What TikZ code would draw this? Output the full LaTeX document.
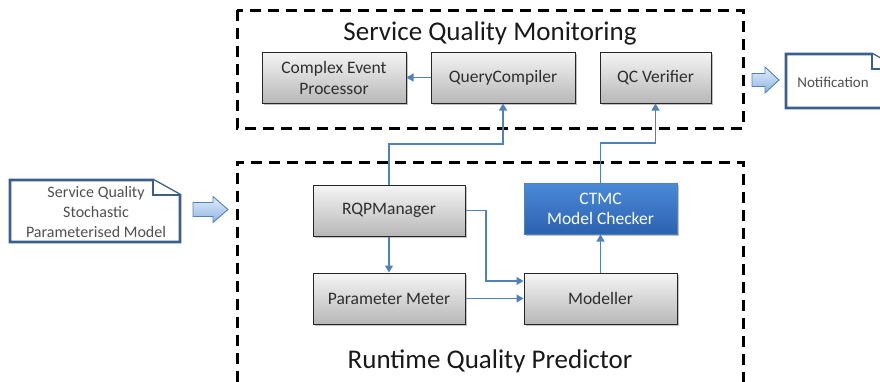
\documentclass[tikz,border=0pt]{standalone}
\usepackage{fontspec}
\setmainfont{Carlito}
\usetikzlibrary{arrows.meta,shadows}
\definecolor{conn}{HTML}{4F81BD}
\definecolor{docblue}{HTML}{3A5F8F}
\definecolor{txt}{HTML}{2E2E2E}
\definecolor{doctxt}{HTML}{505050}
\definecolor{ctmctop}{HTML}{4A8AD8}
\definecolor{ctmcbot}{HTML}{2C62B0}
\definecolor{barrtop}{HTML}{E3EDF9}
\definecolor{barrbot}{HTML}{8EB4E3}
\begin{document}
\begin{tikzpicture}[x=1pt,y=-1pt,
  graybox/.style={draw=black!85, line width=1pt, top color=black!4, bottom color=black!28,
    minimum height=51pt, text=txt, font=\fontsize{17.5}{21}\selectfont, align=center, inner sep=2pt,
    drop shadow={shadow xshift=1.8pt, shadow yshift=-1.8pt, opacity=0.4, fill=black!60}},
  bluebox/.style={draw=conn, line width=1pt, top color=ctmctop, bottom color=ctmcbot,
    minimum height=51pt, text=white, font=\fontsize{17.5}{20}\selectfont, align=center, inner sep=2pt,
    drop shadow={shadow xshift=1.8pt, shadow yshift=-1.8pt, opacity=0.4, fill=black!60}},
  conn/.style={draw=conn, line width=1.3pt, -{Triangle[length=7pt,width=8pt]}},
  dashbox/.style={draw=black, line width=3pt, dash pattern=on 11pt off 7pt},
  docshape/.style={draw=docblue, line width=2.8pt, fill=white, line join=miter},
  blockarrow/.style={top color=barrtop, bottom color=barrbot, draw=conn, line width=0.9pt},
  titletxt/.style={font=\fontsize{27}{30}\selectfont, text=black!90}
]
\useasboundingbox (0,0) rectangle (880,381);
\clip (0,0) rectangle (880,381);

% dashed containers
\draw[dashbox] (237,10) rectangle (743,128);
\draw[dashbox] (237,400) -- (237,162) -- (743,162) -- (743,400);

\node[titletxt] (smtitle) at (490,33) {Service Quality Monitoring};
\node[titletxt] (rqptitle) at (490,361) {Runtime Quality Predictor};

% top boxes
\node[graybox, minimum width=144pt] (cep) at (334,77.5) {Complex Event\\Processor};
\node[graybox, minimum width=144pt] (qc) at (503,77.5) {QueryCompiler};
\node[graybox, minimum width=111pt] (qcv) at (655.5,77.5) {QC Verifier};

% bottom boxes
\node[graybox, minimum width=152pt] (rqp) at (389,210.5) {RQPManager};
\node[graybox, minimum width=152pt] (pm) at (389,298.5) {Parameter Meter};
\node[graybox, minimum width=153pt] (mod) at (600.5,298.5) {Modeller};
\node[bluebox, minimum width=153pt] (ctmc) at (600.5,208.5) {CTMC\\Model Checker};

% connectors
\coordinate (j1) at (0,144);
\coordinate (j2) at (0,143);
\coordinate (k1) at (486,281);
\draw[conn] (qc.west) -- (cep.east);
\draw[conn] (rqp.north) -- (rqp.north |- j1) -| (qc.south);
\draw[conn] (ctmc.north) -- (ctmc.north |- j2) -| (qcv.south);
\draw[conn] (rqp.south) -- (pm.north);
\draw[conn] (rqp.east) -| (k1) -- (mod.west |- k1);
\draw[conn] (pm.east) -- (mod.west);
\draw[conn] (mod.north) -- (ctmc.south);

% left document
\draw[docshape] (10,180) -- (153,180) -- (180,195) -- (180,242) -- (10,242) -- cycle;
\draw[docshape] (153,180) -- (153,195) -- (180,195);
\node[font=\fontsize{16}{20}\selectfont, text=doctxt, align=center] (model) at (96,212)
  {Service Quality\\Stochastic\\Parameterised Model};

% right document
\draw[docshape] (786,54) -- (872,54) -- (899,69) -- (899,108) -- (786,108) -- cycle;
\draw[docshape] (872,54) -- (872,69) -- (899,69);
\node[font=\fontsize{15}{18}\selectfont, text=doctxt] (notif) at (833,82) {Notification};

% block arrows
\shade[blockarrow] (193,202.5) -- (213,202.5) -- (213,196.5) -- (228,209.5) -- (213,222.5) -- (213,216.5) -- (193,216.5) -- cycle;
\shade[blockarrow] (752,73.5) -- (765,73.5) -- (765,67) -- (779,80) -- (765,93) -- (765,86.5) -- (752,86.5) -- cycle;
\end{tikzpicture}
\end{document}
